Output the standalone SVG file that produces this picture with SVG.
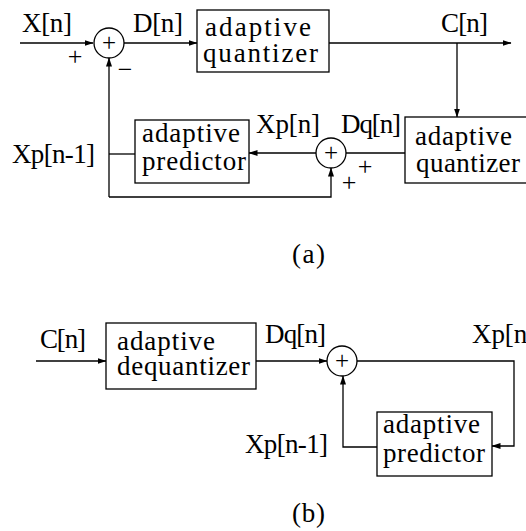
<svg xmlns="http://www.w3.org/2000/svg" width="526" height="531" viewBox="0 0 526 531" font-family="'Liberation Serif', 'DejaVu Serif', serif">
<style>
text{font-family:"Liberation Serif","DejaVu Serif",serif;fill:#000}
.t{font-size:27px}
.s{font-size:26px}
.c{font-size:25px}
.ln{fill:none;stroke:#000;stroke-width:1.3}
.bx{fill:#fff;stroke:#000;stroke-width:1.3}
</style>
<defs>
<marker id="ar" markerUnits="userSpaceOnUse" markerWidth="9" markerHeight="6" refX="8.5" refY="3" orient="auto">
<path d="M0,0 L9,3 L0,6 z" fill="#000"/>
</marker>
</defs>
<g id="connectors">
<line class="ln" x1="20" y1="43" x2="93" y2="43" marker-end="url(#ar)"/>
<line class="ln" x1="124" y1="43" x2="197" y2="43" marker-end="url(#ar)"/>
<line class="ln" x1="329" y1="43" x2="511" y2="43" marker-end="url(#ar)"/>
<line class="ln" x1="457" y1="43" x2="457" y2="117" marker-end="url(#ar)"/>
<line class="ln" x1="405" y1="153" x2="346" y2="153"/>
<line class="ln" x1="316" y1="153" x2="249" y2="153" marker-end="url(#ar)"/>
<line class="ln" x1="135" y1="154" x2="109" y2="154"/>
<polyline class="ln" points="109,197 109,58" marker-end="url(#ar)"/>
<polyline class="ln" points="109,197 331,197 331,168" marker-end="url(#ar)"/>
<line class="ln" x1="36" y1="361" x2="106" y2="361" marker-end="url(#ar)"/>
<line class="ln" x1="256" y1="361" x2="327" y2="361" marker-end="url(#ar)"/>
<polyline class="ln" points="357,361 514,361 514,446 492,446" marker-end="url(#ar)"/>
<polyline class="ln" points="377,447 343,447 343,376" marker-end="url(#ar)"/>
</g>
<g id="sum-a1">
<circle class="bx" cx="109" cy="43" r="15"/>
<text class="c" x="109" y="51" text-anchor="middle">+</text>
</g>
<g id="quantizer-a">
<rect class="bx" x="197" y="10" width="132" height="62"/>
<text class="t" x="205" y="36" textLength="106">adaptive</text>
<text class="t" x="203" y="62" textLength="115">quantizer</text>
</g>
<g id="quantizer-a2">
<rect class="bx" x="405" y="117" width="130" height="66"/>
<text class="t" x="415" y="145" textLength="97">adaptive</text>
<text class="t" x="416" y="172" textLength="104">quantizer</text>
</g>
<g id="sum-a2">
<circle class="bx" cx="331" cy="153" r="15"/>
<text class="c" x="331" y="161" text-anchor="middle">+</text>
</g>
<g id="predictor-a">
<rect class="bx" x="135" y="120" width="114" height="63"/>
<text class="t" x="142" y="142" textLength="98">adaptive</text>
<text class="t" x="142" y="170" textLength="104">predictor</text>
</g>
<g id="labels-a">
<text class="t" x="22" y="32" textLength="50">X[n]</text>
<text class="t" x="133" y="32" textLength="50">D[n]</text>
<text class="t" x="441" y="32" textLength="47">C[n]</text>
<text class="t" x="341" y="133" textLength="60">Dq[n]</text>
<text class="t" x="256" y="133" textLength="64">Xp[n]</text>
<text class="t" x="12" y="163" textLength="83">Xp[n-1]</text>
<text class="s" x="75" y="65" text-anchor="middle">+</text>
<text class="s" x="125" y="78" text-anchor="middle">−</text>
<text class="s" x="365" y="175" text-anchor="middle">+</text>
<text class="s" x="349" y="191" text-anchor="middle">+</text>
<text class="t" x="292" y="263" textLength="33">(a)</text>
</g>
<g id="dequantizer-b">
<rect class="bx" x="106" y="323" width="150" height="66"/>
<text class="t" x="117" y="350" textLength="98">adaptive</text>
<text class="t" x="117" y="375" textLength="133">dequantizer</text>
</g>
<g id="sum-b">
<circle class="bx" cx="342" cy="361" r="15"/>
<text class="c" x="342" y="369" text-anchor="middle">+</text>
</g>
<g id="predictor-b">
<rect class="bx" x="377" y="412" width="115" height="64"/>
<text class="t" x="383" y="433" textLength="97">adaptive</text>
<text class="t" x="383" y="462" textLength="102">predictor</text>
</g>
<g id="labels-b">
<text class="t" x="40" y="348" textLength="46">C[n]</text>
<text class="t" x="265" y="343" textLength="61">Dq[n]</text>
<text class="t" x="472" y="343" textLength="64">Xp[n]</text>
<text class="t" x="245" y="453" textLength="83">Xp[n-1]</text>
<text class="t" x="292" y="522" textLength="33">(b)</text>
</g>
</svg>
